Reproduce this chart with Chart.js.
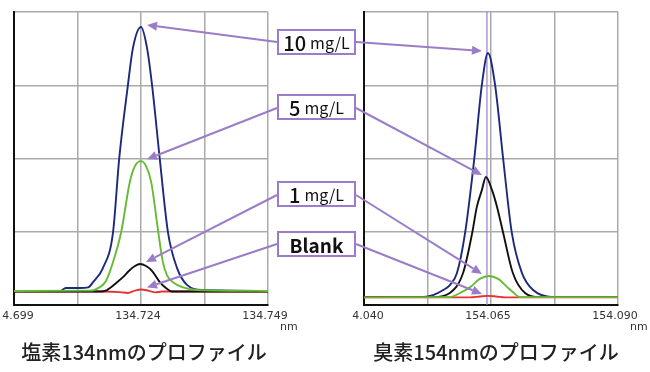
<!DOCTYPE html>
<html>
<head>
<meta charset="utf-8">
<script src="https://cdn.jsdelivr.net/npm/chart.js@4"></script>
<style>
  html, body { margin: 0; padding: 0; background: #fff; }
  body { width: 650px; height: 372px; position: relative; overflow: hidden; }
  .cv { position: absolute; top: 0; }
  #wl { position: absolute; left: 2px; top: 0; width: 298px; height: 340px; overflow: hidden; }
  #wr { position: absolute; left: 352px; top: 0; width: 298px; height: 340px; overflow: hidden; }
  .box { position: absolute; left: 277px; width: 75px; height: 22px; border: 2px solid #9b7cc8; background: #fff;
         display: flex; align-items: center; justify-content: center; font-family: "Noto Sans CJK JP", "Noto Sans", sans-serif;
         color: #111; z-index: 6; white-space: nowrap; }
  .box .n { font-size: 20px; font-weight: 500; }
  .box .u { font-size: 16px; margin-left: 4px; }
  .box .b { font-size: 19px; font-weight: 700; }
  .nm { position: absolute; top: 320px; font-family: "DejaVu Sans", sans-serif; font-size: 11px; color: #333; }
  .title { position: absolute; top: 337px; transform: translateX(-50%); font-family: "Noto Sans CJK JP", sans-serif;
           font-size: 20px; font-weight: 500; color: #222; white-space: nowrap; }
  #ov { position: absolute; left: 0; top: 0; z-index: 5; }
</style>
</head>
<body>
<div id="wl"><canvas id="cl" class="cv" style="left:-2px" width="300" height="340"></canvas></div>
<div id="wr"><canvas id="cr" class="cv" style="left:-3px" width="301" height="340"></canvas></div>
<canvas id="ov" width="650" height="372"></canvas>

<div class="box" style="top:29px"><span class="n">10</span><span class="u">mg/L</span></div>
<div class="box" style="top:94px"><span class="n">5</span><span class="u">mg/L</span></div>
<div class="box" style="top:181px"><span class="n">1</span><span class="u">mg/L</span></div>
<div class="box" style="top:231px"><span class="b">Blank</span></div>

<div class="nm" style="left:280px">nm</div>
<div class="nm" style="left:630px">nm</div>
<div class="title" style="left:144px">塩素134nmのプロファイル</div>
<div class="title" style="left:496px">臭素154nmのプロファイル</div>

<script>
// ---------- data: 塩素 134 nm profile (left) ----------
const clTickValues = [134.699, 134.7115, 134.724, 134.7365, 134.749];
const clTickLabels = ['134.699', '', '134.724', '', '134.749'];

const cl10X = [134.699, 134.7081, 134.7092, 134.7120, 134.7136, 134.7146, 134.7165, 134.7185, 134.7197, 134.7214, 134.7224, 134.7240, 134.7252, 134.7262, 134.7277, 134.7293, 134.7311, 134.7331, 134.7362, 134.749];
const cl10Y = [4.8, 4.8, 5.8, 5.8, 6.0, 7.9, 12.6, 24.9, 49.8, 74.7, 87.6, 94.9, 87.6, 74.7, 49.8, 24.9, 12.6, 6.8, 5.1, 4.8];

const cl5X = [134.699, 134.7140, 134.7159, 134.7171, 134.7185, 134.7201, 134.7218, 134.7228, 134.7240, 134.7250, 134.7260, 134.7274, 134.7283, 134.7291, 134.7305, 134.7321, 134.7350, 134.749];
const cl5Y = [4.8, 4.9, 6.1, 8.2, 14.7, 24.9, 42.0, 47.4, 49.1, 47.4, 42.0, 24.9, 14.7, 10.2, 7.5, 6.1, 5.1, 4.8];

const cl1X = [134.699, 134.7159, 134.7173, 134.7193, 134.7205, 134.7216, 134.7228, 134.7238, 134.7250, 134.7262, 134.7277, 134.7289, 134.7301, 134.749];
const cl1Y = [4.6, 4.6, 5.1, 7.8, 9.6, 11.6, 13.3, 14.0, 13.3, 11.6, 7.8, 5.8, 4.6, 4.6];

const clBlankX = [134.699, 134.7159, 134.7199, 134.7214, 134.7228, 134.7240, 134.7254, 134.7268, 134.7281, 134.749];
const clBlankY = [4.6, 4.6, 4.4, 4.1, 4.9, 5.3, 4.9, 4.3, 4.6, 4.6];

// ---------- data: 臭素 154 nm profile (right) ----------
const brTickValues = [154.040, 154.0525, 154.065, 154.0775, 154.090];
const brTickLabels = ['154.040', '', '154.065', '', '154.090'];
const brMarkerX = 154.0642;

const br10X = [154.040, 154.0510, 154.0536, 154.0556, 154.0569, 154.0583, 154.0599, 154.0617, 154.0632, 154.0644, 154.0658, 154.0674, 154.0691, 154.0711, 154.0733, 154.0772, 154.090];
const br10Y = [2.7, 2.7, 3.4, 5.1, 6.8, 10.9, 24.6, 49.8, 75.1, 86.0, 75.1, 49.8, 24.6, 10.9, 5.1, 2.7, 2.7];

const br5X = [154.040, 154.0536, 154.0569, 154.0595, 154.0613, 154.0622, 154.0632, 154.0640, 154.0652, 154.0662, 154.0674, 154.0693, 154.0717, 154.0746, 154.090];
const br5Y = [2.7, 2.7, 4.1, 10.9, 24.6, 33.4, 39.2, 43.7, 39.2, 33.4, 24.6, 10.9, 4.1, 2.7, 2.7];

const br1X = [154.040, 154.0569, 154.0589, 154.0609, 154.0628, 154.0646, 154.0664, 154.0682, 154.0693, 154.0707, 154.090];
const br1Y = [2.6, 2.7, 4.1, 6.1, 8.9, 9.9, 8.9, 6.1, 4.4, 2.7, 2.7];

const brBlankX = [154.040, 154.0609, 154.0628, 154.0644, 154.0660, 154.0678, 154.090];
const brBlankY = [2.6, 2.6, 2.9, 3.1, 2.9, 2.6, 2.6];

const yTickValues = [0, 25, 50, 75, 100];

// ---------- styling ----------
const NAVY = '#1b2a7c', GREEN = '#66bb33', BLACK = '#111111', RED = '#e53333', PURPLE = '#9b7cc8';

function pts(xs, ys) { return xs.map((x, i) => ({ x: x, y: ys[i] })); }
function line(xs, ys, color) {
  return { data: pts(xs, ys), borderColor: color, borderWidth: 1.9, pointRadius: 0,
           cubicInterpolationMode: 'monotone', fill: false };
}

function makeChart(id, datasets, tickValues, tickLabels, padLeft) {
  return new Chart(document.getElementById(id), {
    type: 'line',
    data: { datasets: datasets },
    options: {
      responsive: false, animation: false, devicePixelRatio: 1,
      layout: { autoPadding: false, padding: { left: padLeft, right: 32, top: 12, bottom: 0 } },
      plugins: { legend: { display: false }, tooltip: { enabled: false } },
      scales: {
        x: {
          type: 'linear', min: tickValues[0], max: tickValues[tickValues.length - 1],
          afterBuildTicks: s => { s.ticks = tickValues.map(v => ({ value: v })); },
          afterFit: s => { s.height = 35; s.paddingLeft = 0; s.paddingRight = 0; },
          ticks: { callback: (v, i) => tickLabels[i], autoSkip: false, maxRotation: 0, padding: 5, labelOffset: -3,
                   font: { family: 'DejaVu Sans', size: 11 }, color: '#333' },
          grid: { color: '#aaaaaa', lineWidth: 1.5, drawTicks: false },
          border: { color: '#111', width: 2 }
        },
        y: {
          min: 0, max: 100,
          afterBuildTicks: s => { s.ticks = yTickValues.map(v => ({ value: v })); },
          afterFit: s => { s.width = 0; s.paddingTop = 0; s.paddingBottom = 0; },
          ticks: { display: false },
          grid: { color: '#aaaaaa', lineWidth: 1.5, drawTicks: false },
          border: { color: '#111', width: 2 }
        }
      }
    }
  });
}

// left canvas sits at page x = 0 (wrapper 2px, canvas -2px); right canvas at page x = 349
const chartL = makeChart('cl', [
  line(cl5X, cl5Y, GREEN),
  line(cl1X, cl1Y, BLACK),
  line(clBlankX, clBlankY, RED),
  line(cl10X, cl10Y, NAVY)
], clTickValues, clTickLabels, 14);

const chartR = makeChart('cr', [
  line(br1X, br1Y, GREEN),
  line(brBlankX, brBlankY, RED),
  line(br5X, br5Y, BLACK),
  line(br10X, br10Y, NAVY),
  { data: [{ x: brMarkerX, y: 0 }, { x: brMarkerX, y: 100 }], borderColor: PURPLE, borderWidth: 1.2, pointRadius: 0 }
], brTickValues, brTickLabels, 15);

// ---------- annotation arrows ----------
function peak(xs, ys) {
  let k = 0;
  for (let i = 1; i < ys.length; i++) if (ys[i] > ys[k]) k = i;
  return { x: xs[k], y: ys[k] };
}
const ov = document.getElementById('ov').getContext('2d');
function arrow(x0, y0, x1, y1) {
  const a = Math.atan2(y1 - y0, x1 - x0), L = 10, W = 4.5;
  const bx = x1 - L * Math.cos(a), by = y1 - L * Math.sin(a);
  ov.strokeStyle = PURPLE; ov.fillStyle = PURPLE; ov.lineWidth = 2;
  ov.beginPath(); ov.moveTo(x0, y0); ov.lineTo(bx, by); ov.stroke();
  ov.beginPath(); ov.moveTo(x1, y1);
  ov.lineTo(bx + W * Math.sin(a), by - W * Math.cos(a));
  ov.lineTo(bx - W * Math.sin(a), by + W * Math.cos(a));
  ov.closePath(); ov.fill();
}
const boxYs = [42, 108, 195, 244];
const leftSeries = [[cl10X, cl10Y], [cl5X, cl5Y], [cl1X, cl1Y], [clBlankX, clBlankY]];
const rightSeries = [[br10X, br10Y], [br5X, br5Y], [br1X, br1Y], [brBlankX, brBlankY]];
const rOff = 349;
const markerPx = rOff + chartR.scales.x.getPixelForValue(brMarkerX);
boxYs.forEach((by, i) => {
  const pl = peak(leftSeries[i][0], leftSeries[i][1]);
  arrow(277, by, chartL.scales.x.getPixelForValue(pl.x) + 6, chartL.scales.y.getPixelForValue(pl.y) - 2);
  const pr = peak(rightSeries[i][0], rightSeries[i][1]);
  arrow(356, by, markerPx - 5, chartR.scales.y.getPixelForValue(pr.y) - 2);
});
</script>
</body>
</html>
